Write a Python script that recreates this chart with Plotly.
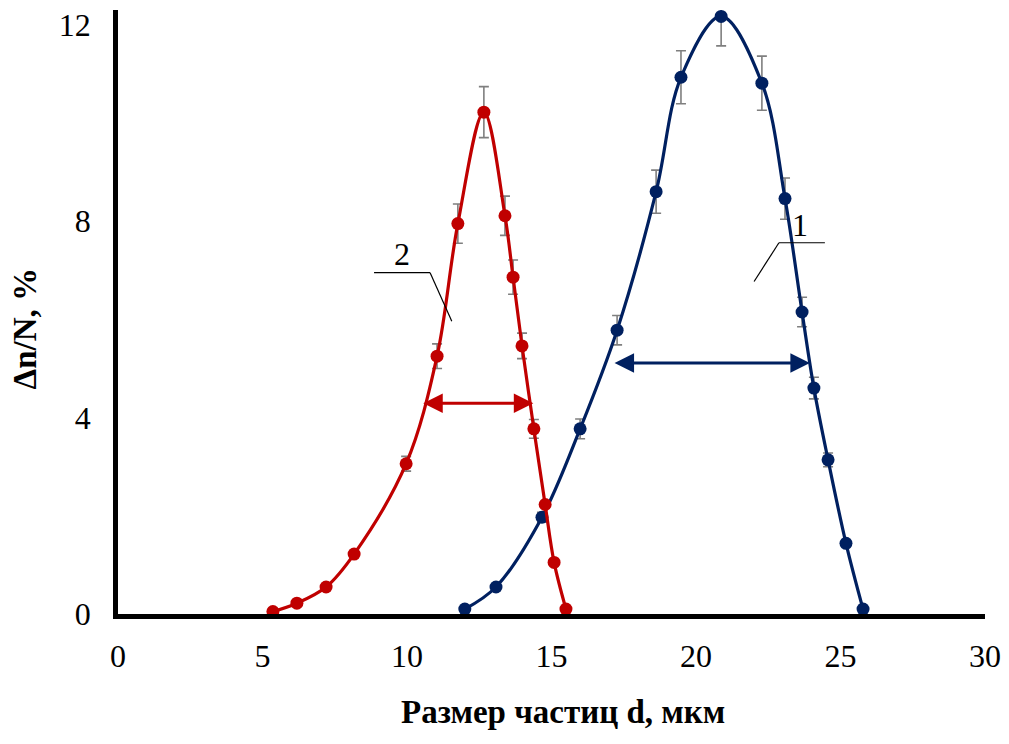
import plotly.graph_objects as go

# Particle size distributions: curve 1 (blue) and curve 2 (red)
d1 = [12.0, 13.08, 14.67, 15.99, 17.27, 18.62, 19.48, 20.87, 22.28, 23.08, 23.67, 24.08, 24.57, 25.19, 25.78]
n1 = [0.10, 0.55, 1.97, 3.77, 5.78, 8.60, 10.93, 12.17, 10.81, 8.46, 6.15, 4.60, 3.14, 1.44, 0.10]
e1 = [0, 0, 0.10, 0.20, 0.30, 0.44, 0.54, 0.60, 0.55, 0.42, 0.30, 0.22, 0.14, 0, 0]

d2 = [5.36, 6.19, 7.20, 8.17, 9.97, 11.04, 11.76, 12.66, 13.39, 13.67, 13.98, 14.39, 14.78, 15.09, 15.50]
n2 = [0.05, 0.22, 0.55, 1.22, 3.06, 5.25, 7.95, 10.22, 8.11, 6.86, 5.46, 3.77, 2.23, 1.05, 0.10]
e2 = [0, 0, 0, 0, 0.15, 0.25, 0.40, 0.52, 0.40, 0.35, 0.26, 0.19, 0.05, 0, 0]

# Half-width arrows: [x_start, x_end, level]
fw1 = [17.13, 23.94, 5.11]
fw2 = [10.51, 14.37, 4.29]

x_ticks = [0, 5, 10, 15, 20, 25, 30]
y_ticks = [0, 4, 8, 12]

BLUE = "#002060"
RED = "#C00000"
FONT = "Liberation Serif"

fig = go.Figure()

# error bars (clipped to plot area, drawn behind the curves)
for d, n, e in ((d1, n1, e1), (d2, n2, e2)):
    fig.add_trace(go.Scatter(
        x=d, y=n, mode="markers",
        marker=dict(size=1, opacity=0),
        error_y=dict(type="data", array=e, visible=True,
                     color="#7f7f7f", thickness=1.6, width=5),
        cliponaxis=True, showlegend=False, hoverinfo="skip"))

for d, n, c in ((d1, n1, BLUE), (d2, n2, RED)):
    fig.add_trace(go.Scatter(
        x=d, y=n, mode="lines+markers",
        line=dict(color=c, width=3.2, shape="spline", smoothing=1.0),
        marker=dict(color=c, size=13),
        cliponaxis=False, showlegend=False))

# double-headed half-width arrows
for (xa, xb, lvl), c in ((fw1, BLUE), (fw2, RED)):
    fig.add_annotation(x=xb, y=lvl, ax=xa, ay=lvl, xref="x", yref="y",
                       axref="x", ayref="y", text="", showarrow=True,
                       arrowhead=2, startarrowhead=2, arrowside="end+start",
                       arrowsize=1.3, startarrowsize=1.3,
                       arrowwidth=3, arrowcolor=c)

# curve labels with leader lines
labels = [("1", 23.6, 7.92, [(22.01, 6.77), (22.87, 7.56), (24.46, 7.56)]),
          ("2", 9.83, 7.34, [(8.86, 6.95), (10.80, 6.95), (11.55, 5.96)])]
for txt, lx, ly, pts in labels:
    fig.add_annotation(x=lx, y=ly, xref="x", yref="y", text=txt,
                       xanchor="center", yanchor="middle",
                       showarrow=False, font=dict(family=FONT, size=32, color="black"))
    for (xa, ya), (xb, yb) in zip(pts[:-1], pts[1:]):
        fig.add_shape(type="line", x0=xa, y0=ya, x1=xb, y1=yb, xref="x", yref="y",
                      line=dict(color="black", width=1.2))

# axis titles
fig.add_annotation(x=0.513, y=-0.163, xref="paper", yref="paper",
                   xanchor="center", yanchor="middle",
                   text="<b>Размер частиц d, мкм</b>", showarrow=False,
                   font=dict(family=FONT, size=33, color="black"))
fig.add_annotation(x=-0.107, y=0.473, xref="paper", yref="paper",
                   xanchor="center", yanchor="middle",
                   text="<b>Δn/N, %</b>", showarrow=False, textangle=-90,
                   font=dict(family=FONT, size=33, color="black"))

fig.update_layout(
    width=1009, height=744,
    margin=dict(l=118, r=24, t=7, b=130),
    paper_bgcolor="white", plot_bgcolor="white",
    xaxis=dict(range=[0, 30], tickvals=x_ticks, showgrid=False, zeroline=False,
               showline=True, linecolor="black", linewidth=4.5, ticks="",
               ticklabelstandoff=10,
               tickfont=dict(family=FONT, size=32, color="black")),
    yaxis=dict(range=[0, 12.3], tickvals=y_ticks, showgrid=False, zeroline=False,
               showline=True, linecolor="black", linewidth=4.5, ticks="",
               ticklabelstandoff=16,
               tickfont=dict(family=FONT, size=32, color="black")),
)

fig.write_html("out.html")
